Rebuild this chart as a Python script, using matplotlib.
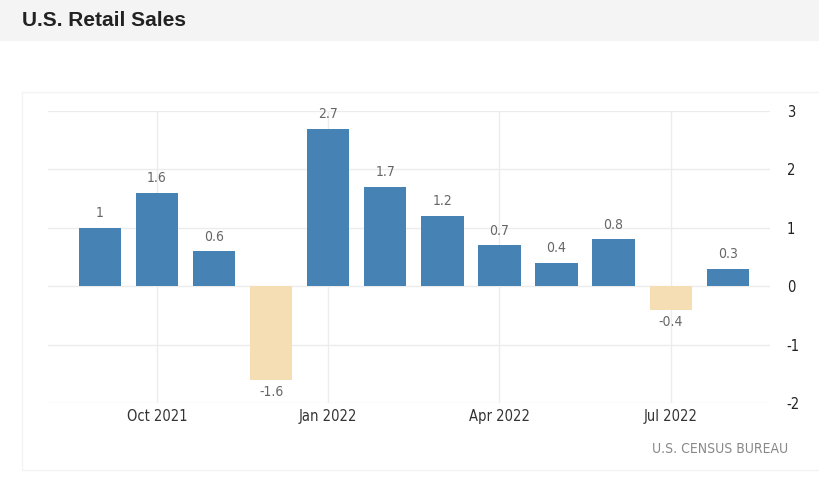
import matplotlib
matplotlib.use("Agg")
import matplotlib.pyplot as plt
from matplotlib.patches import Rectangle
import numpy as np

# donnees : variation mensuelle des ventes au detail (%)
months = ["Sep 2021", "Oct 2021", "Nov 2021", "Dec 2021", "Jan 2022", "Feb 2022",
          "Mar 2022", "Apr 2022", "May 2022", "Jun 2022", "Jul 2022", "Aug 2022"]
values = [1, 1.6, 0.6, -1.6, 2.7, 1.7, 1.2, 0.7, 0.4, 0.8, -0.4, 0.3]
labels = ["1", "1.6", "0.6", "-1.6", "2.7", "1.7", "1.2", "0.7", "0.4", "0.8", "-0.4", "0.3"]
tick_months = ["Oct 2021", "Jan 2022", "Apr 2022", "Jul 2022"]
y_ticks = [-2, -1, 0, 1, 2, 3]

plt.rcParams['font.family'] = ['DejaVu Sans']
plt.rcParams['font.stretch'] = 'condensed'

W, H = 820, 482
fig = plt.figure(figsize=(W / 100, H / 100), dpi=100)
fig.patch.set_facecolor("white")

# bandeau du titre
fig.patches.append(Rectangle((0, 1 - 41 / H), 1, 41 / H, transform=fig.transFigure,
                             facecolor="#f4f4f4", edgecolor="none", zorder=0))
fig.text(22 / W, 1 - 20 / H, "U.S. Retail Sales", fontsize=15, fontweight="bold",
         color="#222222", va="center", ha="left",
         family=['Liberation Sans', 'DejaVu Sans'], stretch="normal")
# cadre de la carte (tres pale)
fig.patches.append(Rectangle((22 / W, 1 - 470 / H), 1, (470 - 92) / H, transform=fig.transFigure,
                             facecolor="none", edgecolor="#f3f3f3", linewidth=1, zorder=0))

ax = fig.add_axes([48 / W, 1 - 403 / H, (770 - 48) / W, (403 - 111) / H])
x = np.arange(len(months))
colors = ["#4682b4" if v >= 0 else "#f5deb3" for v in values]
ax.bar(x, values, width=0.74, color=colors, zorder=2)

for xi, v, lab in zip(x, values, labels):
    if v >= 0:
        ax.annotate(lab, (xi, v), xytext=(0, 5.5), textcoords="offset points",
                    ha="center", va="bottom", fontsize=10, color="#666666")
    else:
        ax.annotate(lab, (xi, v), xytext=(0, -4), textcoords="offset points",
                    ha="center", va="top", fontsize=10, color="#666666")

ax.set_xlim(-0.91, 11.74)
ax.set_ylim(-2, 3)
ax.set_yticks(y_ticks)
ax.set_yticklabels([str(t) for t in y_ticks])
ax.yaxis.tick_right()
ax.tick_params(axis="y", length=0, pad=12, labelsize=10.5, labelcolor="#222222")
ax.set_xticks([months.index(m) for m in tick_months])
ax.set_xticklabels(tick_months)
ax.tick_params(axis="x", length=0, pad=4, labelsize=10.5, labelcolor="#333333")
ax.grid(True, color="#ececec", linewidth=1, zorder=0)
for s in ax.spines.values():
    s.set_visible(False)

fig.text(788 / W, 1 - 449 / H, "U.S. CENSUS BUREAU", fontsize=10, color="#888888",
         ha="right", va="center")

fig.savefig("out.png", dpi=100)
